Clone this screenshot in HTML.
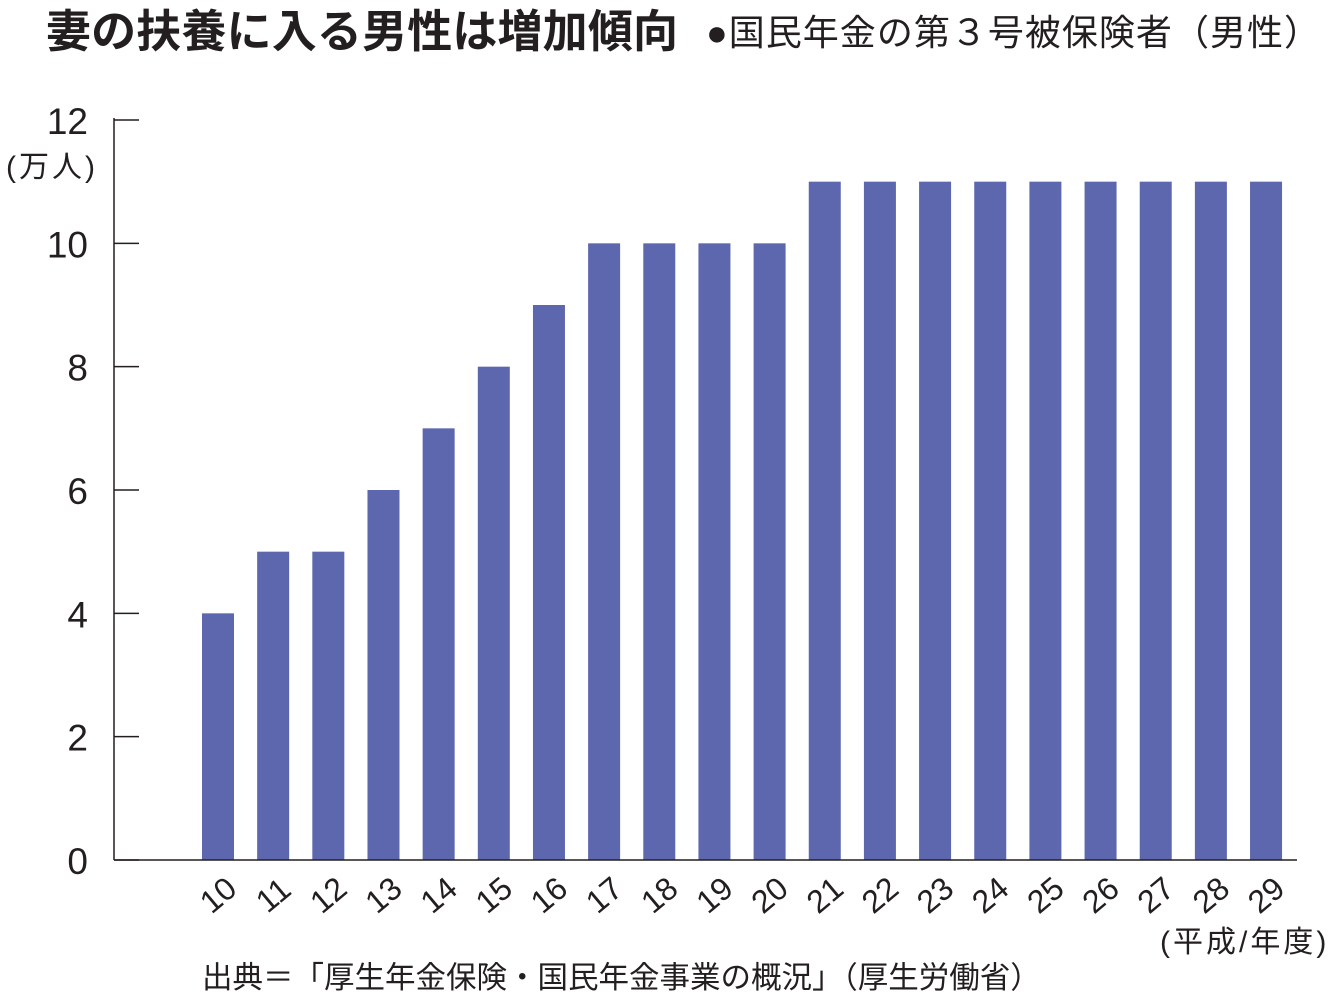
<!DOCTYPE html>
<html><head><meta charset="utf-8"><style>
body{margin:0;background:#fff;width:1340px;height:1006px;overflow:hidden}
svg{display:block}
text{font-family:"Liberation Sans","Noto Sans CJK JP",sans-serif;fill:#231f20}
</style></head><body>
<svg id="c" width="1340" height="1006">
<text x="46" y="47" font-size="45" font-weight="bold" textLength="632">妻の扶養に入る男性は増加傾向</text>
<text x="706" y="45" font-size="36" textLength="614">●国民年金の第３号被保険者（男性）</text>
<text x="6" y="177" font-size="30" letter-spacing="3">(万人)</text>
<text x="1160" y="952" font-size="30" letter-spacing="3">(平成/年度)</text>
<text x="202" y="988" font-size="30.5">出典＝「厚生年金保険・国民年金事業の概況」（厚生労働省）</text>
<g id="bars"></g><g id="axes"></g>
</svg>
<script>
const categories=["10","11","12","13","14","15","16","17","18","19","20","21","22","23","24","25","26","27","28","29"];
const values=[4,5,5,6,7,8,9,10,10,10,10,11,11,11,11,11,11,11,11,11];
const yTicks=[0,2,4,6,8,10,12];
const ns="http://www.w3.org/2000/svg";
const y0=860,y12=120,axX=114,x0=218,pitch=55.16,bw=32;
const ys=v=>y0-(y0-y12)*v/12;
const xs=i=>x0+i*pitch;
const bars=document.getElementById('bars'),axes=document.getElementById('axes');
function mk(t,a,p){const e=document.createElementNS(ns,t);for(const k in a)e.setAttribute(k,a[k]);p.appendChild(e);return e;}
values.forEach((v,i)=>{
 const r=mk('rect',{x:xs(i)-bw/2,y:ys(v),width:bw,height:y0-ys(v),fill:'#5d67ae'},bars);
 
 
 const cx=xs(i),cy=895;
 const t=mk('text',{x:cx,y:cy+11,'font-size':32,'text-anchor':'middle',transform:`rotate(-40 ${cx} ${cy})`},axes);
 t.textContent=categories[i];
 
 
});
const ax=mk('line',{x1:axX,y1:y12-2,x2:axX,y2:y0,stroke:'#231f20','stroke-width':1.5},axes);


const bl=mk('line',{x1:axX,y1:y0,x2:1297,y2:y0,stroke:'#231f20','stroke-width':1.5},axes);


yTicks.forEach(v=>{
 const l=mk('line',{x1:axX,y1:ys(v),x2:139,y2:ys(v),stroke:'#231f20','stroke-width':1.5},axes);
 
 
 const t=mk('text',{x:88,y:ys(v)+14,'font-size':37,'text-anchor':'end'},axes);
 t.textContent=v;
 
 
});
</script>
</body></html>
